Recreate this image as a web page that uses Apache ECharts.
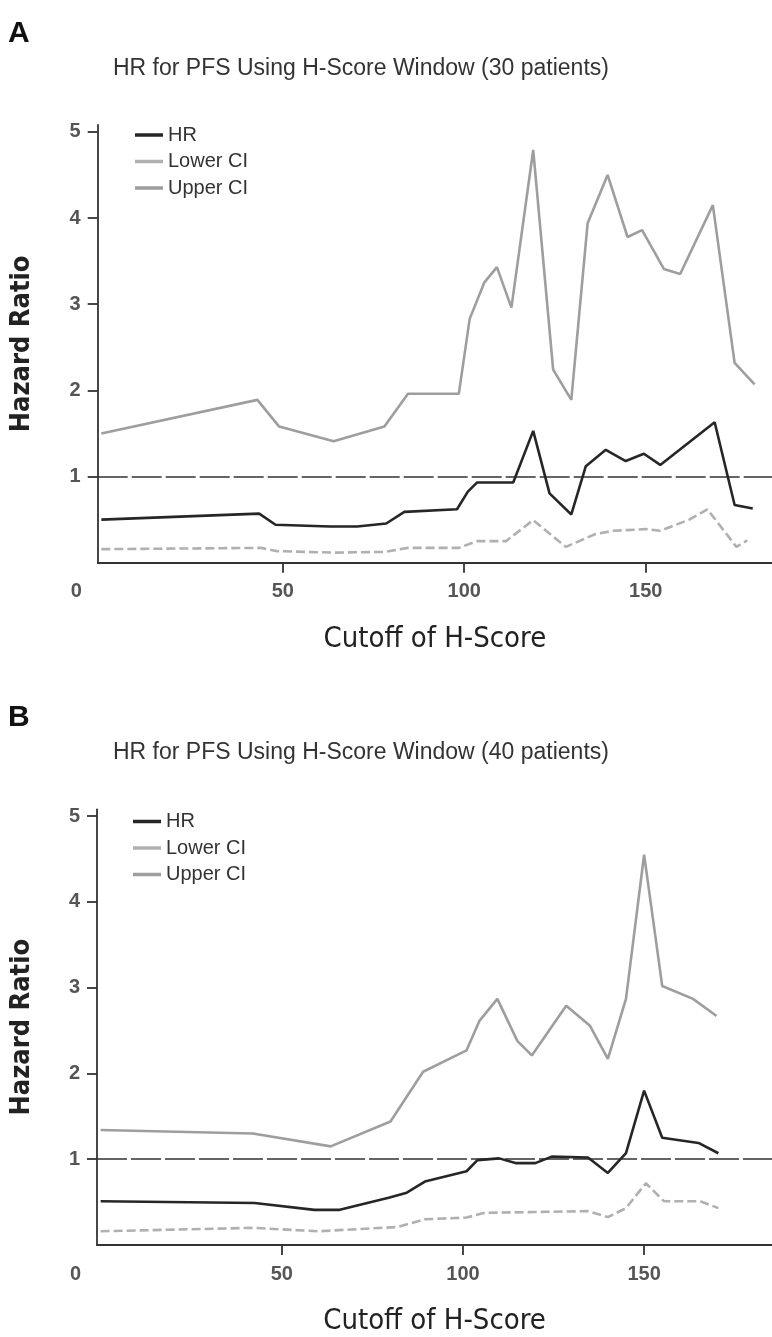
<!DOCTYPE html>
<html><head><meta charset="utf-8">
<script src="https://cdn.jsdelivr.net/npm/echarts@6/dist/echarts.min.js"></script>
<style>html,body{margin:0;padding:0;background:#fff}#c{width:772px;height:1337px}</style>
</head><body><div id="c"></div>
<script>
// ---- data ----
const panelLetters = ['A', 'B'];
const panelTitles = ['HR for PFS Using H-Score Window (30 patients)', 'HR for PFS Using H-Score Window (40 patients)'];
const seriesNames = ['HR', 'Lower CI', 'Upper CI'];
const xName = 'Cutoff of H-Score';
const yName = 'Hazard Ratio';
const xTickValues = [50, 100, 150];
const xLabelValues = [0, 50, 100, 150];
const yTickValues = [1, 2, 3, 4, 5];
const refValue = 1;

const hrA = [[0,0.50],[43.5,0.57],[48,0.44],[63,0.42],[70.5,0.42],[78.5,0.455],[83.5,0.59],[98,0.62],[101,0.825],[103.5,0.93],[113.5,0.93],[119,1.53],[123.5,0.805],[129.5,0.56],[133.5,1.12],[139,1.31],[144.5,1.18],[149.5,1.265],[154,1.135],[169,1.63],[174.5,0.67],[179.5,0.63]];
const lowerA = [[0,0.157],[44,0.172],[48.5,0.134],[64,0.117],[78,0.125],[84.5,0.172],[98.5,0.172],[103.5,0.25],[111.5,0.25],[119,0.495],[128,0.184],[136,0.33],[141,0.37],[150,0.39],[154,0.37],[162,0.5],[167,0.62],[175,0.184],[178,0.26]];
const upperA = [[0,1.50],[43,1.89],[49,1.58],[64,1.41],[78,1.58],[84.5,1.96],[98.5,1.96],[101.5,2.83],[105.5,3.25],[109,3.43],[113,2.96],[119,4.79],[124.5,2.24],[129.5,1.89],[134,3.94],[139.5,4.50],[145,3.78],[149,3.86],[155,3.41],[159.5,3.35],[168.5,4.15],[174.5,2.32],[180,2.07]];

const hrB = [[0,0.51],[42.5,0.49],[59,0.41],[66,0.41],[79.5,0.55],[84.5,0.61],[89.5,0.74],[101,0.86],[104,0.99],[110,1.01],[114.5,0.955],[120,0.955],[124.5,1.03],[134.5,1.02],[140,0.84],[145,1.07],[150,1.80],[155,1.25],[165,1.19],[170.5,1.07]];
const lowerB = [[0,0.16],[42,0.20],[60,0.16],[82,0.21],[89.5,0.30],[101,0.32],[106,0.375],[134.5,0.395],[140,0.325],[145,0.43],[150.5,0.72],[155.5,0.51],[165.5,0.51],[170.5,0.43]];
const upperB = [[0,1.34],[42,1.30],[63.5,1.15],[80,1.44],[89,2.02],[101,2.27],[104.5,2.61],[109.5,2.87],[115,2.38],[119,2.21],[128.5,2.79],[135,2.56],[140,2.17],[145,2.87],[150,4.55],[155,3.02],[163.5,2.87],[170,2.67]];

// ---- styling ----
const SANS = "'Liberation Sans', Arial, sans-serif";
const NARROW = "'Liberation Sans Narrow', 'DejaVu Sans Condensed', sans-serif";
const AX = '#333';
const HR_C = '#262626', UP_C = '#9e9e9e', LO_C = '#b0b0b0';

const panels = [
  {grid:{left:97.7, top:125, right:0, height:437.7}, xmin:-1, xmax:184.8, data:[hrA, lowerA, upperA], legendTop:125, legendLeft:135, letterTop:19, titleTop:57},
  {grid:{left:96.7, top:809.3, right:0, height:437.4}, xmin:-1, xmax:185.3, data:[hrB, lowerB, upperB], legendTop:811.5, legendLeft:133, letterTop:703, titleTop:741}
];

const option = {
  backgroundColor:'#fff',
  animation:false,
  title:[], grid:[], xAxis:[], yAxis:[], series:[], legend:[]
};

panels.forEach((p, i) => {
  option.title.push({text: panelLetters[i], left: 8, top: p.letterTop, padding:0,
    textStyle:{fontFamily:SANS, fontSize:30, fontWeight:'bold', color:'#111'}});
  option.title.push({text: panelTitles[i], left: 113, top: p.titleTop, padding:0,
    textStyle:{fontFamily:SANS, fontSize:23, fontWeight:'normal', color:'#333'}});
  option.grid.push(Object.assign({containLabel:false}, p.grid));
  option.xAxis.push({
    type:'value', gridIndex:i, min:p.xmin, max:p.xmax,
    splitLine:{show:false},
    axisLine:{show:true, onZero:false, lineStyle:{color:AX, width:1.8}},
    axisTick:{show:true, customValues:xTickValues, length:10, inside:false, lineStyle:{color:AX, width:1.8}},
    axisLabel:{customValues:xLabelValues, margin:19, fontFamily:SANS, fontSize:20, fontWeight:'bold', color:'#555',
      formatter: v => v === 0 ? '{o|0}' : String(v),
      rich:{o:{padding:[0,50,0,0], fontFamily:SANS, fontSize:20, fontWeight:'bold', color:'#555'}}},
    name:xName, nameLocation:'middle', nameGap:62,
    nameTextStyle:{fontFamily:NARROW, fontSize:29, color:'#222'}
  });
  option.yAxis.push({
    type:'value', gridIndex:i, min:0, max:5.08,
    splitLine:{show:false},
    axisLine:{show:true, onZero:false, lineStyle:{color:AX, width:1.8}},
    axisTick:{show:true, customValues:yTickValues, length:10, lineStyle:{color:AX, width:1.8}},
    axisLabel:{customValues:yTickValues, margin:17, fontFamily:SANS, fontSize:20, fontWeight:'bold', color:'#555'},
    name:yName, nameLocation:'middle', nameGap:62, nameRotate:90,
    nameTextStyle:{fontFamily:NARROW, fontSize:27, fontWeight:'bold', color:'#222'}
  });
  const styles = [
    {color:HR_C, width:2.6, type:'solid'},
    {color:LO_C, width:2.6, type:[9,4]},
    {color:UP_C, width:2.6, type:'solid'}
  ];
  seriesNames.forEach((nm, k) => {
    const s = {
      name:nm, type:'line', xAxisIndex:i, yAxisIndex:i, data:p.data[k],
      symbol:'none', showSymbol:false, smooth:false,
      lineStyle:styles[k], itemStyle:{color:styles[k].color}, z: k===0 ? 4 : 3
    };
    if (k === 0) {
      s.markLine = {silent:true, symbol:'none', label:{show:false},
        lineStyle:{color:'#333', width:1.6, type:[30,4]},
        data:[{yAxis:refValue}], z:2};
    }
    option.series.push(s);
  });
  option.legend.push({
    orient:'vertical', left:p.legendLeft, top:p.legendTop, padding:0,
    icon:'rect', itemWidth:28, itemHeight:3.5, itemGap:6.5,
    textStyle:{fontFamily:SANS, fontSize:20, color:'#333', lineHeight:20},
    selectedMode:false,
    data:[
      {name:'HR', itemStyle:{color:HR_C}},
      {name:'Lower CI', itemStyle:{color:LO_C}},
      {name:'Upper CI', itemStyle:{color:UP_C}}
    ]
  });
});

const chart = echarts.init(document.getElementById('c'), null, {renderer:'canvas'});
chart.setOption(option);
</script>
</body></html>
